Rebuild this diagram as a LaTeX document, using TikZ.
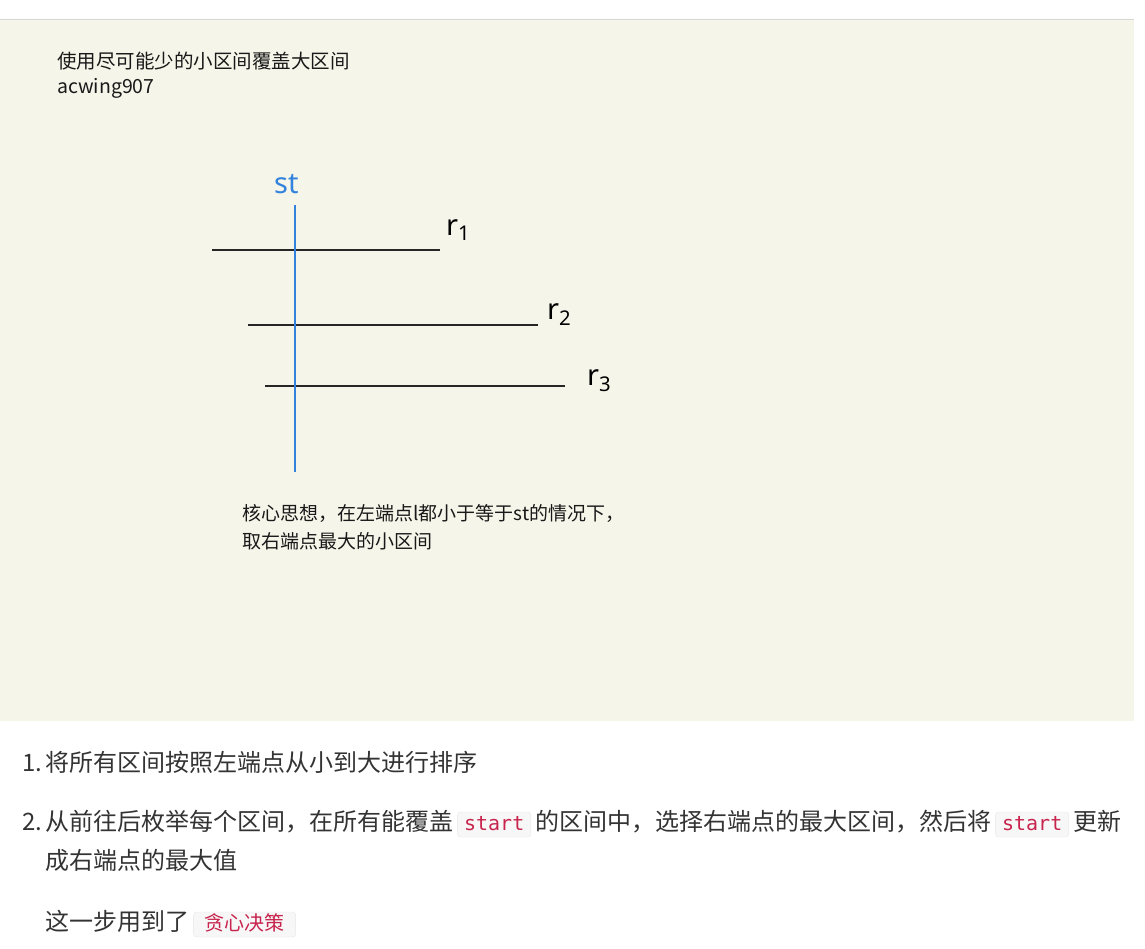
\documentclass[tikz,border=0pt]{standalone}
\usepackage{fontspec}
\setmainfont{Noto Sans CJK SC}
\newfontfamily\codefont{DejaVu Sans Mono}
\newfontfamily\handfont{Noto Sans}
\usetikzlibrary{positioning}

\definecolor{panelbg}{RGB}{245,245,233}
\definecolor{panelrule}{RGB}{214,214,210}
\definecolor{stblue}{RGB}{50,130,222}
\definecolor{codered}{RGB}{199,37,78}
\definecolor{codebg}{RGB}{247,247,247}
\definecolor{codeline}{RGB}{230,230,230}
\definecolor{bodytext}{RGB}{51,51,51}

\begin{document}
\begin{tikzpicture}[x=1pt, y=-1pt,
	note/.style={anchor=base west, inner sep=0pt, text=black!90, font=\fontsize{19}{19}\selectfont},
	item/.style={anchor=base west, inner sep=0pt, text=bodytext, font=\fontsize{24}{24}\selectfont},
	code/.style={anchor=base west, draw=codeline, fill=codebg, rounded corners=3pt, text=codered,
		inner xsep=6.5pt, inner ysep=3pt, text height=15pt, text depth=4pt, font=\codefont\fontsize{20}{20}\selectfont},
	hand/.style={anchor=base west, inner sep=0pt, font=\handfont\fontsize{29}{29}\selectfont},
	interval/.style={line width=1.5pt, black!85}]
	\useasboundingbox (0,0) rectangle (1145,948);

	% Panel
	\fill [panelbg] (0,19) rectangle (1134,721);
	\draw [panelrule, line width=1pt] (0,19) -- (1134,19);

	% Notes {title, problem, idea}
	\node [note, font=\fontsize{19.5}{19.5}\selectfont] 	(title) 	at (57,68) 	{使用尽可能少的小区间覆盖大区间};
	\node [note, font=\fontsize{19.5}{19.5}\selectfont] 	(prob) 		at (57,93) 	{acwing907};
	\node [note] 	(idea1) 	at (242,520) {核心思想，在左端点l都小于等于st的情况下，};
	\node [note] 	(idea2) 	at (242,548) {取右端点最大的小区间};

	% Coordinates {st line, intervals}
	\coordinate (stTop) at (295,205);
	\coordinate (stBot) at (295,472);
	\coordinate (s1) at (212,250);	\coordinate (e1) at (440,250);
	\coordinate (s2) at (248,325);	\coordinate (e2) at (538,325);
	\coordinate (s3) at (265,386);	\coordinate (e3) at (565,386);

	% Paths
	\draw [interval] 	(s1) -- (e1);
	\draw [interval] 	(s2) -- (e2);
	\draw [interval] 	(s3) -- (e3);
	\draw [stblue, line width=1.8pt] 	(stTop) -- (stBot);

	% Labels {st, r1, r2, r3}
	\node [hand, text=stblue] 	(st) at (274,193) {st};
	\node [hand] 	(r1) at (446,235) {r\textsubscript{1}};
	\node [hand] 	(r2) at (547,319) {r\textsubscript{2}};
	\node [hand] 	(r3) at (587,385) {r\textsubscript{3}};

	% Steps
	\node [item] 	(n1) 	at (22,771) 	{1.};
	\node [item] 	(step1) at (45,771) 	{将所有区间按照左端点从小到大进行排序};
	\node [item] 	(n2) 	at (22,830) 	{2.};
	\node [item] 	(step2a) at (45,830) 	{从前往后枚举每个区间，在所有能覆盖};
	\node [code] 	(code1) [base right=4pt of step2a] 	{start};
	\node [item] 	(step2b) [base right=4pt of code1] 	{的区间中，选择右端点的最大区间，然后将};
	\node [code] 	(code2) [base right=4pt of step2b] 	{start};
	\node [item] 	(step2c) [base right=4pt of code2] 	{更新};
	\node [item] 	(step2d) at (45,869) 	{成右端点的最大值};
	\node [item] 	(step3) at (45,930) 	{这一步用到了};
	\node [code, font=\fontsize{20}{20}\selectfont, inner xsep=11pt] 	(greedy) [base right=4pt of step3] 	{贪心决策};

\end{tikzpicture}
\end{document}
